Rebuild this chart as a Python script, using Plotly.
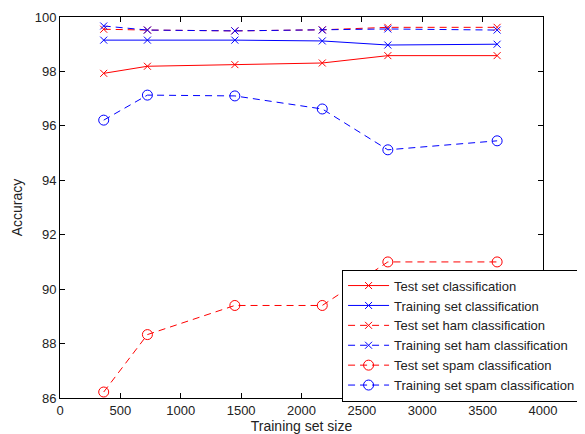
import plotly.graph_objects as go

train_size = [362, 724, 1448, 2172, 2715, 3620]

test_all = [97.93, 98.19, 98.25, 98.31, 98.58, 98.58]
train_all = [99.15, 99.15, 99.15, 99.12, 98.97, 99.00]
test_ham = [99.55, 99.52, 99.49, 99.53, 99.62, 99.62]
train_ham = [99.67, 99.52, 99.49, 99.52, 99.56, 99.52]
test_spam = [86.22, 88.33, 89.40, 89.40, 91.00, 91.00]
train_spam = [96.21, 97.13, 97.10, 96.62, 95.12, 95.45]

names = ["Test set classification", "Training set classification",
         "Test set ham classification", "Training set ham classification",
         "Test set spam classification", "Training set spam classification"]

x_ticks = list(range(0, 4001, 500))
y_ticks = list(range(86, 101, 2))

RED = "#ff0000"
BLUE = "#0000ff"
DASH = "7px,5px"

series = [
    (test_all, RED, "solid", "x-thin-open"),
    (train_all, BLUE, "solid", "x-thin-open"),
    (test_ham, RED, DASH, "x-thin-open"),
    (train_ham, BLUE, DASH, "x-thin-open"),
    (test_spam, RED, DASH, "circle-open"),
    (train_spam, BLUE, DASH, "circle-open"),
]

fig = go.Figure()
for name, (vals, col, dash, sym) in zip(names, series):
    fig.add_trace(go.Scatter(
        x=train_size, y=vals, name=name, mode="lines+markers",
        line=dict(color=col, width=1, dash=dash),
        marker=dict(symbol=sym, size=10 if sym == "circle-open" else 7,
                    color=col, line=dict(color=col, width=1)),
    ))

axis_common = dict(
    showline=True, linecolor="black", linewidth=1, mirror="ticks",
    ticks="inside", ticklen=5, tickcolor="black", showgrid=False,
    zeroline=False, tickfont=dict(size=13, color="#222"),
)

# page body has an 8px default margin: figure sized to fill the rest
fig.update_layout(
    width=577, height=426,
    margin=dict(l=52, r=42, t=9, b=36, autoexpand=False),
    paper_bgcolor="white", plot_bgcolor="white",
    font=dict(family="Liberation Sans, Arial, sans-serif", size=13, color="#222"),
    xaxis=dict(range=[0, 4000], tickvals=x_ticks,
               title=dict(text="Training set size", standoff=0, font=dict(size=14)),
               **axis_common),
    yaxis=dict(range=[86, 100], tickvals=y_ticks,
               title=dict(text="Accuracy", standoff=8, font=dict(size=14)),
               **axis_common),
    legend=dict(x=0.584, y=0.337, xanchor="left", yanchor="top",
                bgcolor="white", bordercolor="black", borderwidth=1,
                font=dict(size=13, color="#222"), tracegroupgap=0,
                itemwidth=41),
    showlegend=True,
)

fig.write_html("out.html")
